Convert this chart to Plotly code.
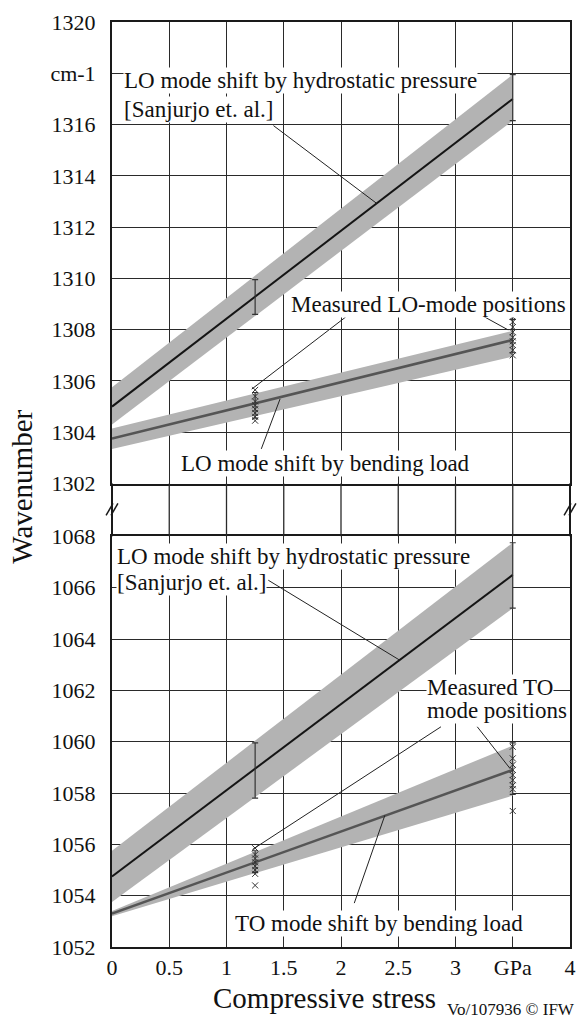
import plotly.graph_objects as go
from plotly.subplots import make_subplots

# ---------------- data ----------------
stress_fit = [0.0, 3.5]

# upper panel (LO mode)
lo_hydro_line = [1305.0, 1317.0]
lo_hydro_upper = [1305.75, 1317.95]
lo_hydro_lower = [1304.3, 1316.15]
lo_bend_line = [1303.75, 1307.6]
lo_bend_upper = [1304.15, 1307.95]
lo_bend_lower = [1303.35, 1306.95]

# lower panel
to_hydro_line = [1054.75, 1066.5]
to_hydro_upper = [1055.75, 1067.75]
to_hydro_lower = [1053.75, 1065.2]
to_bend_line = [1053.3, 1058.9]
to_bend_upper = [1053.4, 1059.85]
to_bend_lower = [1053.2, 1057.9]

# error bars (x positions, low, high)
err_x = [1.25, 3.5]
lo_hydro_err_low = [1308.6, 1316.15]
lo_hydro_err_high = [1309.95, 1317.95]
lo_meas_err_low = [1304.55, 1307.1]
lo_meas_err_high = [1305.55, 1308.4]
to_hydro_err_low = [1057.8, 1065.2]
to_hydro_err_high = [1059.95, 1067.75]
to_meas_err_low = [1054.9, 1057.95]
to_meas_err_high = [1055.75, 1059.95]

# measured positions
lo_meas_a = [1305.65, 1305.4, 1305.2, 1305.05, 1304.9, 1304.75, 1304.6, 1304.45]
lo_meas_b = [1308.5, 1308.3, 1308.1, 1307.9, 1307.7, 1307.55, 1307.4, 1307.2, 1307.0]
to_meas_a = [1055.85, 1055.6, 1055.45, 1055.3, 1055.15, 1055.0, 1054.85, 1054.4]
to_meas_b = [1059.8, 1059.35, 1059.1, 1058.9, 1058.7, 1058.5, 1058.3, 1058.15, 1057.3]

x_tickvals = [0, 0.5, 1, 1.5, 2, 2.5, 3, 3.5, 4]
x_ticktext = ["0", "0.5", "1", "1.5", "2", "2.5", "3", "GPa", "4"]
top_tickvals = [1302, 1304, 1306, 1308, 1310, 1312, 1314, 1316, 1318, 1320]
top_ticktext = ["1302", "1304", "1306", "1308", "1310", "1312", "1314", "1316", "cm-1", "1320"]
bot_tickvals = [1052, 1054, 1056, 1058, 1060, 1062, 1064, 1066, 1068]
bot_ticktext = [str(v) for v in bot_tickvals]

# ---------------- figure ----------------
W, H = 586, 1027
ML, MR, MT, MB = 112, 10, 19, 80
PH = H - MT - MB
TOP_DOM = [(947 - 482) / PH, 1.0]
BOT_DOM = [0.0, (947 - 535) / PH]
X_RANGE = [0, 4]

FONT = "Liberation Serif"
BAND = "#b3b3b3"
HYD = "#151515"
BEND = "#555555"
MK = "#333333"

fig = make_subplots(rows=2, cols=1, shared_xaxes=True, vertical_spacing=0.05)


def band(x, up, low, row):
    fig.add_trace(go.Scatter(x=x + x[::-1], y=up + low[::-1], fill="toself",
                             fillcolor=BAND, line=dict(width=0), mode="lines",
                             hoverinfo="skip", showlegend=False), row=row, col=1)


def line(x, y, color, width, row):
    fig.add_trace(go.Scatter(x=x, y=y, mode="lines", line=dict(color=color, width=width),
                             showlegend=False), row=row, col=1)


def errbar(x, low, high, row):
    mid = [(a + b) / 2 for a, b in zip(low, high)]
    fig.add_trace(go.Scatter(x=x, y=mid, mode="markers", marker=dict(size=1, opacity=0),
                             error_y=dict(type="data", symmetric=False,
                                          array=[h - m for h, m in zip(high, mid)],
                                          arrayminus=[m - l for m, l in zip(mid, low)],
                                          width=3, thickness=1.2, color=MK),
                             showlegend=False), row=row, col=1)


def meas(xv, ys, row):
    fig.add_trace(go.Scatter(x=[xv] * len(ys), y=ys, mode="markers",
                             marker=dict(symbol="x-thin", size=6, line=dict(width=1, color=MK), color=MK),
                             showlegend=False), row=row, col=1)


band(stress_fit, lo_hydro_upper, lo_hydro_lower, 1)
band(stress_fit, lo_bend_upper, lo_bend_lower, 1)
line(stress_fit, lo_hydro_line, HYD, 2, 1)
line(stress_fit, lo_bend_line, BEND, 2.5, 1)
errbar(err_x, lo_hydro_err_low, lo_hydro_err_high, 1)
errbar(err_x, lo_meas_err_low, lo_meas_err_high, 1)
meas(1.25, lo_meas_a, 1)
meas(3.5, lo_meas_b, 1)

band(stress_fit, to_hydro_upper, to_hydro_lower, 2)
band(stress_fit, to_bend_upper, to_bend_lower, 2)
line(stress_fit, to_hydro_line, HYD, 2, 2)
line(stress_fit, to_bend_line, BEND, 2.5, 2)
errbar(err_x, to_hydro_err_low, to_hydro_err_high, 2)
errbar(err_x, to_meas_err_low, to_meas_err_high, 2)
meas(1.25, to_meas_a, 2)
meas(3.5, to_meas_b, 2)

axis_common = dict(showline=True, linecolor="#1a1a1a", linewidth=2, mirror=True,
                   showgrid=True, gridcolor="#2a2a2a", gridwidth=1.3, zeroline=False,
                   ticks="", tickfont=dict(family=FONT, size=22, color="#111"))

fig.update_xaxes(range=X_RANGE, tickvals=x_tickvals, ticktext=x_ticktext, **axis_common)
fig.update_xaxes(showticklabels=False, row=1, col=1)
fig.update_xaxes(ticklabelstandoff=0, row=2, col=1)
fig.update_yaxes(**axis_common)
fig.update_yaxes(range=[1302, 1320], tickvals=top_tickvals, ticktext=top_ticktext,
                 domain=TOP_DOM, ticklabelstandoff=10, row=1, col=1)
fig.update_yaxes(range=[1052, 1068], tickvals=bot_tickvals, ticktext=bot_ticktext,
                 domain=BOT_DOM, ticklabelstandoff=10, row=2, col=1)

shapes = []
# vertical grid lines through the axis break (paper coords; x-axis domain is [0, 1])
for xv in x_tickvals:
    xp = (xv - X_RANGE[0]) / (X_RANGE[1] - X_RANGE[0])
    edge = xv in (X_RANGE[0], X_RANGE[1])
    shapes.append(dict(type="line", xref="paper", yref="paper", x0=xp, x1=xp,
                       y0=BOT_DOM[1], y1=TOP_DOM[0],
                       line=dict(color="#1a1a1a" if edge else "#2a2a2a",
                                 width=2 if edge else 1.3), layer="above"))


def pxp(px, py):
    return (px - ML) / (W - ML - MR), (H - MB - py) / PH


# break marks "//"
for cx, cy in [(112, 508), (576, 508)]:
    for dx in (-2.5, 2.5):
        x0, y0 = pxp(cx + dx - 3.5, cy + 6)
        x1, y1 = pxp(cx + dx + 3.5, cy - 6)
        shapes.append(dict(type="line", xref="paper", yref="paper", x0=x0, y0=y0, x1=x1, y1=y1,
                           line=dict(color="#1a1a1a", width=1.5)))

# leader lines (data coordinates)
leaders_top = [((1.41, 1315.96), (2.31, 1312.93)),
               ((2.04, 1308.49), (1.22, 1305.68)),
               ((3.175, 1308.69), (3.46, 1307.99)),
               ((1.304, 1303.35), (1.468, 1305.3))]
leaders_bot = [((1.365, 1066.29), (2.511, 1063.18)),
               ((2.873, 1060.58), (1.227, 1055.8)),
               ((3.19, 1060.58), (3.477, 1058.95)),
               ((2.116, 1053.71), (2.383, 1057.13))]
for (a, b) in leaders_top:
    shapes.append(dict(type="line", xref="x", yref="y", x0=a[0], y0=a[1], x1=b[0], y1=b[1],
                       line=dict(color="#222", width=1)))
for (a, b) in leaders_bot:
    shapes.append(dict(type="line", xref="x2", yref="y2", x0=a[0], y0=a[1], x1=b[0], y1=b[1],
                       line=dict(color="#222", width=1)))

fig.update_layout(shapes=shapes)

TF = dict(family=FONT, size=23, color="#111")


def lab(text, x, y, xanchor, xref, yref):
    fig.add_annotation(text=text, x=x, y=y, xref=xref, yref=yref, xanchor=xanchor,
                       yanchor="middle", showarrow=False, font=TF, bgcolor="white", borderpad=0)


lab("LO mode shift by hydrostatic pressure", 0.10, 1317.7, "left", "x", "y")
lab("[Sanjurjo et. al.]", 0.10, 1316.6, "left", "x", "y")
lab("Measured LO-mode positions", 2.76, 1309.0, "center", "x", "y")
lab("LO mode shift by bending load", 1.865, 1302.77, "center", "x", "y")
lab("LO mode shift by hydrostatic pressure", 0.037, 1067.22, "left", "x2", "y2")
lab("[Sanjurjo et. al.]", 0.037, 1066.2, "left", "x2", "y2")
lab("Measured TO", 2.745, 1062.1, "left", "x2", "y2")
lab("mode positions", 2.745, 1061.2, "left", "x2", "y2")
lab("TO mode shift by bending load", 2.33, 1052.93, "center", "x2", "y2")

# axis titles and credit
px_, py_ = pxp(442, 998)
fig.add_annotation(text="Compressive stress", x=px_, y=py_, xref="paper", yref="paper",
                   showarrow=False, font=dict(family=FONT, size=29, color="#111"),
                   xanchor="right", yanchor="middle")
px_, py_ = pxp(21, 485)
fig.add_annotation(text="Wavenumber", x=px_, y=py_, xref="paper", yref="paper",
                   showarrow=False, textangle=-90, font=dict(family=FONT, size=29, color="#111"),
                   xanchor="center", yanchor="middle")
px_, py_ = pxp(583, 1010)
fig.add_annotation(text="Vo/107936 © IFW", x=px_, y=py_, xref="paper", yref="paper",
                   showarrow=False, font=dict(family=FONT, size=17, color="#111"),
                   xanchor="right", yanchor="middle")

fig.update_layout(width=W, height=H, margin=dict(l=ML, r=MR, t=MT, b=MB),
                  paper_bgcolor="white", plot_bgcolor="white", showlegend=False)

fig.write_html("out.html")
